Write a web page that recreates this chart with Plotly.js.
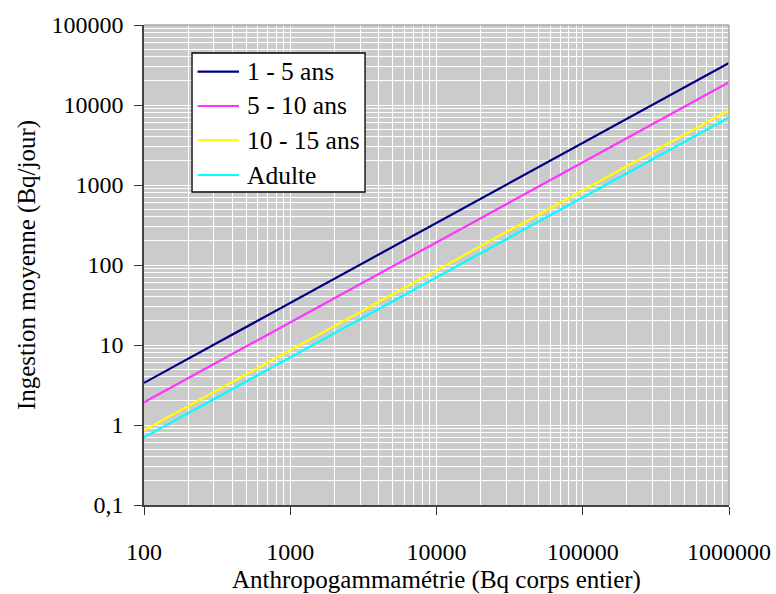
<!DOCTYPE html>
<html>
<head>
<meta charset="utf-8">
<script src="https://cdn.plot.ly/plotly-3.0.1.min.js"></script>
<style>html,body{margin:0;padding:0;background:#fff;}#chart{width:776px;height:594px;}</style>
</head>
<body>
<div id="chart"></div>
<script>
const xValues = [100, 1000, 10000, 100000, 1000000];
const series1to5 = [3.36, 33.6, 336, 3360, 33600];
const series5to10 = [1.92, 19.2, 192, 1920, 19200];
const series10to15 = [0.86, 8.6, 86, 860, 8600];
const seriesAdult = [0.70, 7.0, 70, 700, 7000];
const seriesNames = ["1 - 5 ans", "5 - 10 ans", "10 - 15 ans", "Adulte"];
const seriesColors = ["#000080", "#ff33ff", "#ffff00", "#00ffff"];
const yTickVals = [0.1, 1, 10, 100, 1000, 10000, 100000];
const yTickText = ["0,1", "1", "10", "100", "1000", "10000", "100000"];
const xTickVals = [100, 1000, 10000, 100000, 1000000];
const xTickText = ["100", "1000", "10000", "100000", "1000000"];

function minorGrid(decades) {
  const out = [];
  decades.forEach(d => { for (let m = 2; m <= 9; m++) out.push(m * d); });
  return out;
}
const xMinor = minorGrid([100, 1000, 10000, 100000]);
const yMinor = minorGrid([0.1, 1, 10, 100, 1000, 10000]);

const allSeries = [series1to5, series5to10, series10to15, seriesAdult];
const traces = allSeries.map((s, i) => ({
  x: xValues, y: s, type: "scatter", mode: "lines",
  name: seriesNames[i], showlegend: false,
  line: {color: seriesColors[i], width: 2.2}
}));

const fam = "Liberation Serif";

// Legend box drawn in paper coordinates (layout only)
const legBox = {x0: 0.0821, x1: 0.3778, y0: 0.6521, y1: 0.9417};
const legLineX = [0.0915, 0.1624];
const legTextX = 0.1726;
const legRowY = [0.9027, 0.8313, 0.7604, 0.6875];

const shapes = [
  {type: "line", xref: "paper", yref: "paper", x0: 0, x1: 1, y0: 1, y1: 1, line: {color: "#aaa", width: 1.5}},
  {type: "line", xref: "paper", yref: "paper", x0: 1, x1: 1, y0: 0, y1: 1, line: {color: "#aaa", width: 1.5}},
  {type: "rect", xref: "paper", yref: "paper", x0: legBox.x0, x1: legBox.x1, y0: legBox.y0, y1: legBox.y1,
    fillcolor: "#fff", line: {color: "#000", width: 1.3}, layer: "above"}
];
const annotations = [];
seriesNames.forEach((n, i) => {
  shapes.push({type: "line", xref: "paper", yref: "paper", x0: legLineX[0], x1: legLineX[1],
    y0: legRowY[i], y1: legRowY[i], line: {color: seriesColors[i], width: 2.2}, layer: "above"});
  annotations.push({xref: "paper", yref: "paper", x: legTextX, y: legRowY[i], xanchor: "left", yanchor: "middle",
    text: n, showarrow: false, font: {family: fam, size: 25.5, color: "#000"}});
});

const layout = {
  width: 776, height: 594,
  margin: {l: 144, r: 47, t: 25, b: 89},
  paper_bgcolor: "#fff", plot_bgcolor: "#cbcbcb",
  font: {family: fam, size: 24, color: "#000"},
  showlegend: false,
  xaxis: {type: "log", range: [2, 6], tickmode: "array", tickvals: xTickVals, ticktext: xTickText,
    showgrid: true, gridcolor: "#fff", gridwidth: 1.2,
    minor: {tickmode: "array", tickvals: xMinor, showgrid: true, gridcolor: "#fff", gridwidth: 1, ticks: ""},
    ticks: "outside", ticklen: 8, tickcolor: "#333", showline: true, linecolor: "#444", linewidth: 1.5,
    zeroline: false, tickfont: {family: fam, size: 24, color: "#000"}, ticklabelstandoff: 16,
    title: {text: "Anthropogammamétrie (Bq corps entier)", font: {family: fam, size: 25, color: "#000"}, standoff: 17}},
  yaxis: {type: "log", range: [-1, 5], tickmode: "array", tickvals: yTickVals, ticktext: yTickText,
    showgrid: true, gridcolor: "#fff", gridwidth: 1.2,
    minor: {tickmode: "array", tickvals: yMinor, showgrid: true, gridcolor: "#fff", gridwidth: 1, ticks: ""},
    ticks: "outside", ticklen: 8, tickcolor: "#333", showline: true, linecolor: "#444", linewidth: 1.5,
    zeroline: false, tickfont: {family: fam, size: 24, color: "#000"}, ticklabelstandoff: 6,
    title: {text: "Ingestion moyenne (Bq/jour)", font: {family: fam, size: 25, color: "#000"}, standoff: 9}},
  shapes: shapes,
  annotations: annotations
};
Plotly.newPlot("chart", traces, layout, {displayModeBar: false});
</script>
</body>
</html>
